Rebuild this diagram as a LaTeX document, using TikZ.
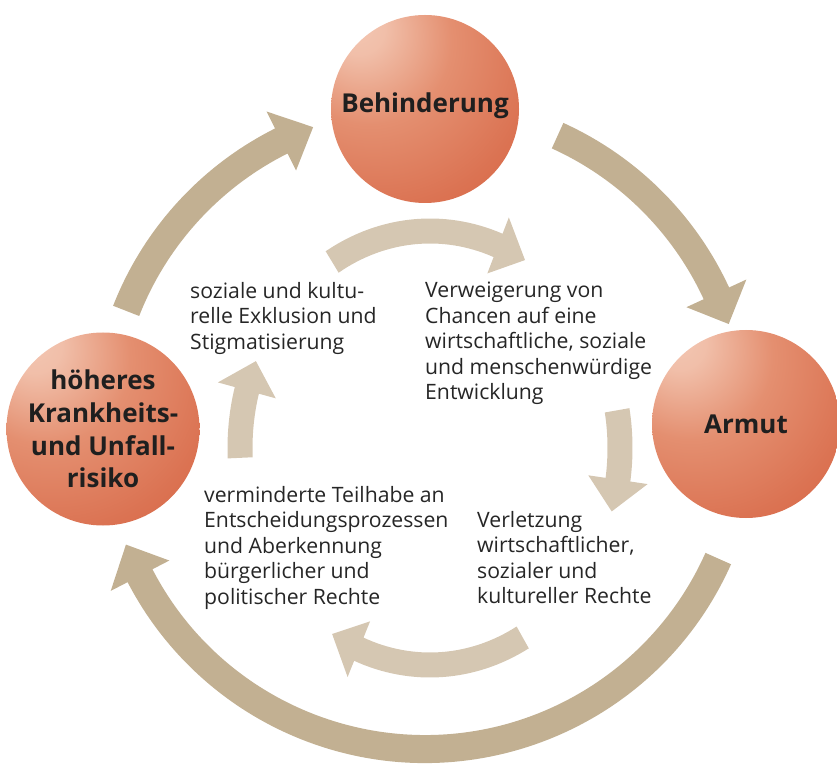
\documentclass[tikz,border=0pt]{standalone}
\usepackage{fontspec}
\setmainfont{Open Sans}
\usepackage{tikz}
\usetikzlibrary{positioning}
\definecolor{ringtan}{HTML}{C2B092}
\definecolor{paletan}{HTML}{D5C7B2}
\definecolor{orbhi}{HTML}{F3C7B3}
\definecolor{orbmid}{HTML}{E48F70}
\definecolor{orbbase}{HTML}{D5603F}
\definecolor{inktext}{HTML}{262626}

\pgfdeclareradialshading{orb}{\pgfpoint{-19bp}{23bp}}{%
  color(0bp)=(orbhi); color(7bp)=(orbhi!85!orbmid);
  color(22bp)=(orbmid); color(40bp)=(orbmid!40!orbbase); color(55bp)=(orbbase);
  color(100bp)=(orbbase)}

%% curved band arrow: style, centre, rx, ry, half band, half head, start, base, tip
\newcommand{\ringarrow}[9]{%
  \pgfmathsetmacro\rxo{#3+#5}\pgfmathsetmacro\ryo{#4+#5}%
  \pgfmathsetmacro\rxi{#3-#5}\pgfmathsetmacro\ryi{#4-#5}%
  \pgfmathsetmacro\rxh{#3+#6}\pgfmathsetmacro\ryh{#4+#6}%
  \pgfmathsetmacro\rxl{#3-#6}\pgfmathsetmacro\ryl{#4-#6}%
  \fill[#1, shift={(#2)}] (#7:{\rxo} and {\ryo})
    arc[start angle=#7, end angle=#8, x radius=\rxo, y radius=\ryo]
    -- (#8:{\rxh} and {\ryh}) -- (#9:{#3} and {#4}) -- (#8:{\rxl} and {\ryl})
    -- (#8:{\rxi} and {\ryi})
    arc[start angle=#8, end angle=#7, x radius=\rxi, y radius=\ryi] -- cycle;}

\begin{document}
\begin{tikzpicture}[x=1pt, y=1pt,
    orbnode/.style = {circle, shading=orb, align=center, text=black!88,
                      font=\fontsize{26}{32.5}\selectfont\bfseries, inner sep=0pt},
    note/.style    = {anchor=north west, align=left, inner sep=0pt, text=inktext,
                      font=\fontsize{21.2}{25.5}\selectfont},
    outer/.style   = {fill=ringtan},
    inner/.style   = {fill=paletan},
  ]
    \useasboundingbox (0,0) rectangle (837,766);

    %% ── Centres of the two rings ────────────────────────────────────────────
    \coordinate (hub)  at (425, 338);
    \coordinate (core) at (430, 318);

    %% ── Outer ring ──────────────────────────────────────────────────────────
    \ringarrow{outer}{hub}{321}{321}{14}{33}{158.6}{116.6}{110.4}
    \ringarrow{outer}{hub}{321}{321}{14}{33}{65.6}{24.8}{18.9}
    \ringarrow{outer}{hub}{321}{321}{14}{33}{-24}{-152.6}{-158.7}

    %% ── Inner ring ──────────────────────────────────────────────────────────
    \ringarrow{inner}{core}{190}{217}{12.5}{30}{121}{69}{60}
    \ringarrow{inner}{core}{190}{217}{12.5}{30}{10}{-8.4}{-17}
    \ringarrow{inner}{core}{190}{217}{12.5}{30}{-60.8}{-112}{-121}
    \ringarrow{inner}{core}{190}{217}{12.5}{30}{182.6}{164.6}{156.4}

    %% ── Main nodes ──────────────────────────────────────────────────────────
    \node[orbnode, minimum size=188] (behind) at (425, 657) {\raisebox{13pt}{Behinderung}};
    \node[orbnode, minimum size=188] (armut)  at (746, 342) {Armut};
    \node[orbnode, minimum size=193] (risiko) at (103, 337)
          {höheres\\Krankheits-\\und Unfall-\\risiko};

    %% ── Labels ──────────────────────────────────────────────────────────────
    \node[note] (exkl)    at (190, 484) {soziale und kultu-\\relle Exklusion und\\Stigmatisierung};
    \node[note] (chancen) at (425, 484)
          {Verweigerung von\\Chancen auf eine\\wirtschaftliche, soziale\\und menschenwürdige\\Entwicklung};
    \node[note] (teilhabe) at (204, 280)
          {verminderte Teilhabe an\\Entscheidungsprozessen\\und Aberkennung\\bürgerlicher und\\politischer Rechte};
    \node[note] (rechte)  at (477, 255)
          {Verletzung\\wirtschaftlicher,\\sozialer und\\kultureller Rechte};

  \end{tikzpicture}
\end{document}
